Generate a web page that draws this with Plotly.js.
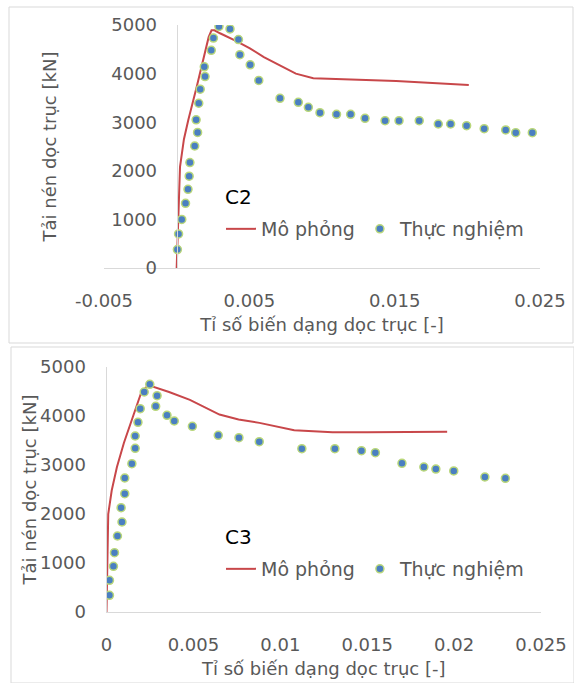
<!DOCTYPE html>
<html>
<head>
<meta charset="utf-8">
<script src="https://cdn.plot.ly/plotly-3.0.1.min.js"></script>
<style>html,body{margin:0;padding:0;background:#fff;}#chart{width:574px;height:683px;}</style>
</head>
<body>
<div id="chart"></div>
<script>
// ---- Data ----
const seriesNames = ['Mô phỏng', 'Thực nghiệm'];
const panelLabels = ['C2', 'C3'];
const xTitle = 'Tỉ số biến dạng dọc trục [-]';
const yTitle = 'Tải nén dọc trục [kN]';

// C2 – simulation
const c2SimX = [0, 0.0001, 0.00023, 0.0005, 0.0008, 0.00138, 0.00183, 0.0022, 0.0024, 0.0026, 0.00298, 0.00404, 0.00504, 0.006, 0.0071, 0.0082, 0.0094, 0.0117, 0.0151, 0.0201];
const c2SimY = [0, 1000, 2080, 2650, 3045, 3730, 4280, 4750, 4890, 4890, 4830, 4680, 4520, 4340, 4170, 4000, 3905, 3880, 3850, 3765];
// C2 – experiment
const c2ExpX = [0.00005, 0.00013, 0.00035, 0.00061, 0.00078, 0.00086, 0.00091, 0.00124, 0.00144, 0.00134, 0.00152, 0.00162, 0.00195, 0.0019, 0.00238, 0.00253, 0.00291, 0.00367, 0.00425, 0.00435, 0.00506, 0.00565, 0.00711, 0.00837, 0.00906, 0.00986, 0.0110, 0.01197, 0.01296, 0.01434, 0.0153, 0.01669, 0.0180, 0.01885, 0.01995, 0.02116, 0.02264, 0.02333, 0.02447];
const c2ExpY = [380, 700, 1000, 1330, 1620, 1890, 2170, 2510, 2790, 3050, 3390, 3680, 3940, 4140, 4480, 4730, 4970, 4920, 4700, 4390, 4180, 3860, 3492, 3409, 3306, 3196, 3162, 3162, 3080, 3031, 3031, 3031, 2963, 2963, 2928, 2866, 2840, 2784, 2784];

// C3 – simulation
const c3SimX = [0, 0.00004, 0.0001, 0.0003, 0.0006, 0.001, 0.0015, 0.002, 0.0024, 0.0036, 0.0048, 0.0057, 0.0065, 0.0076, 0.0088, 0.0108, 0.013, 0.015, 0.018, 0.0196];
const c3SimY = [0, 800, 2000, 2480, 2960, 3450, 3980, 4480, 4630, 4490, 4330, 4180, 4030, 3930, 3860, 3710, 3667, 3667, 3667, 3680];
// C3 – experiment
const c3ExpX = [0.00017, 0.00017, 0.0004, 0.00046, 0.00063, 0.00089, 0.00084, 0.00105, 0.00105, 0.00146, 0.00165, 0.00165, 0.00181, 0.00194, 0.00217, 0.00249, 0.00291, 0.00283, 0.00348, 0.0039, 0.00494, 0.00643, 0.00762, 0.00879, 0.01124, 0.01314, 0.01467, 0.01547, 0.0170, 0.01826, 0.01895, 0.01998, 0.02177, 0.02295];
const c3ExpY = [340, 646, 932, 1211, 1551, 1837, 2129, 2415, 2735, 3027, 3340, 3592, 3871, 4150, 4490, 4646, 4415, 4197, 4014, 3898, 3789, 3605, 3558, 3476, 3333, 3333, 3292, 3251, 3035, 2959, 2918, 2878, 2755, 2728];

// Tick labels
const c2XTicks = [-0.005, 0.005, 0.015, 0.025];
const c2XTickText = ['-0.005', '0.005', '0.015', '0.025'];
const c3XTicks = [0, 0.005, 0.01, 0.015, 0.02, 0.025];
const c3XTickText = ['0', '0.005', '0.01', '0.015', '0.02', '0.025'];
const yTicks = [0, 1000, 2000, 3000, 4000, 5000];
const yTickText = ['0', '1000', '2000', '3000', '4000', '5000'];

// ---- Styling / layout helpers ----
const W = 574, H = 683;
const px = v => v / W;
const py = v => 1 - v / H;
const FONT = 'DejaVu Sans';
const GRAY = '#595959';
const AXIS = '#d9d9d9';
const RED = '#c8474a';

function simTrace(x, y, xa, ya, lg) {
  return {type: 'scatter', mode: 'lines', x: x, y: y, xaxis: xa, yaxis: ya, name: seriesNames[0],
    legend: lg, line: {color: RED, width: 2}, hoverinfo: 'skip'};
}
function expTrace(x, y, xa, ya, lg) {
  return {type: 'scatter', mode: 'markers', x: x, y: y, xaxis: xa, yaxis: ya, name: seriesNames[1],
    legend: lg, marker: {color: '#4a7fc1', size: 8, line: {color: '#b9d77a', width: 1.5}}, hoverinfo: 'skip'};
}

const data = [
  simTrace(c2SimX, c2SimY, 'x', 'y', 'legend'),
  expTrace(c2ExpX, c2ExpY, 'x', 'y', 'legend'),
  simTrace(c3SimX, c3SimY, 'x2', 'y2', 'legend2'),
  expTrace(c3ExpX, c3ExpY, 'x2', 'y2', 'legend2'),
  {type: 'scatter', mode: 'markers', x: [], y: [], xaxis: 'x', yaxis: 'y3', showlegend: false, hoverinfo: 'skip'},
  {type: 'scatter', mode: 'markers', x: [], y: [], xaxis: 'x2', yaxis: 'y4', showlegend: false, hoverinfo: 'skip'}
];

function xAxis(domain, range, tv, tt, anchor) {
  return {domain: domain, range: range, anchor: anchor, tickvals: tv, ticktext: tt,
    showline: true, linecolor: AXIS, linewidth: 1, showgrid: false, zeroline: false,
    ticks: 'outside', ticklen: 16, tickcolor: 'rgba(0,0,0,0)',
    tickfont: {family: FONT, size: 18, color: GRAY},
    title: {text: xTitle, font: {family: FONT, size: 18, color: GRAY}, standoff: 8},
    fixedrange: true};
}
function yAxis(domain, extra) {
  return Object.assign({domain: domain, range: [0, 5000], tickvals: yTicks, ticktext: yTickText,
    showline: true, linecolor: AXIS, linewidth: 1, showgrid: false, zeroline: false,
    ticks: 'outside', ticklen: 16, tickcolor: 'rgba(0,0,0,0)',
    tickfont: {family: FONT, size: 18, color: GRAY}, fixedrange: true}, extra);
}
function yTitleAxis(over, pos) {
  return {overlaying: over, anchor: 'free', position: pos, range: [0, 5000],
    showticklabels: false, ticks: '', showline: false, showgrid: false, zeroline: false,
    title: {text: yTitle, font: {family: FONT, size: 18, color: GRAY}, standoff: 0}, fixedrange: true};
}
function legendAt(yv) {
  return {orientation: 'h', x: px(221), xanchor: 'left', y: yv, yanchor: 'middle',
    font: {family: FONT, size: 19, color: GRAY}, bgcolor: 'rgba(0,0,0,0)', borderwidth: 0, traceorder: 'normal'};
}

const topDomX = [px(104), px(540)];
const botDomX = [px(106.5), px(541)];

const layout = {
  width: W, height: H,
  margin: {l: 0, r: 0, t: 0, b: 0, pad: 0},
  paper_bgcolor: '#ffffff', plot_bgcolor: 'rgba(0,0,0,0)',
  font: {family: FONT, color: GRAY},
  xaxis: xAxis(topDomX, [-0.005, 0.025], c2XTicks, c2XTickText, 'y'),
  yaxis: yAxis([py(268), py(25)], {anchor: 'free', position: px(104 + 436 / 6)}),
  xaxis2: xAxis(botDomX, [0, 0.025], c3XTicks, c3XTickText, 'y2'),
  yaxis2: yAxis([py(612), py(367)], {anchor: 'x2'}),
  yaxis3: yTitleAxis('y', px(63)),
  yaxis4: yTitleAxis('y2', px(43)),
  legend: legendAt(py(229)),
  legend2: legendAt(py(569)),
  annotations: [
    {xref: 'paper', yref: 'paper', x: px(238), y: py(197), text: panelLabels[0], showarrow: false,
     xanchor: 'center', yanchor: 'middle', font: {family: FONT, size: 20, color: '#000000'}},
    {xref: 'paper', yref: 'paper', x: px(238), y: py(537), text: panelLabels[1], showarrow: false,
     xanchor: 'center', yanchor: 'middle', font: {family: FONT, size: 20, color: '#000000'}}
  ],
  shapes: [
    {type: 'rect', xref: 'paper', yref: 'paper', x0: px(9), x1: px(573), y0: py(343), y1: py(7), line: {color: AXIS, width: 1}},
    {type: 'rect', xref: 'paper', yref: 'paper', x0: px(11), x1: px(574), y0: py(683), y1: py(347), line: {color: AXIS, width: 1}}
  ],
  showlegend: true
};

Plotly.newPlot('chart', data, layout, {staticPlot: true, displayModeBar: false});
</script>
</body>
</html>
